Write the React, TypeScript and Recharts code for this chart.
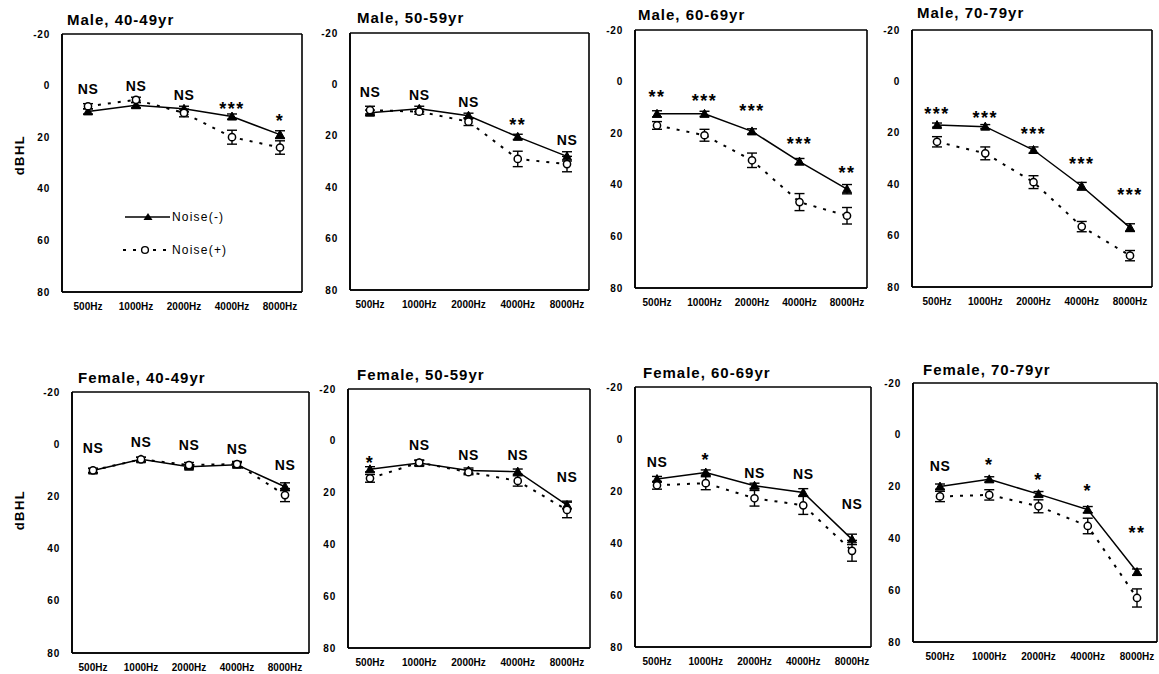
import React from 'react';
import { LineChart, Line, XAxis, YAxis, ErrorBar, Legend, CartesianGrid } from 'recharts';

// ---------- data ----------
const freqs = ['500Hz', '1000Hz', '2000Hz', '4000Hz', '8000Hz'];
const yTicks = [-20, 0, 20, 40, 60, 80];
const panelTitles = [
  'Male, 40-49yr',
  'Male, 50-59yr',
  'Male, 60-69yr',
  'Male, 70-79yr',
  'Female, 40-49yr',
  'Female, 50-59yr',
  'Female, 60-69yr',
  'Female, 70-79yr',
];
const seriesNames = ['Noise(-)', 'Noise(+)'];

// Noise(-): mean hearing level (dBHL) and error
const noiseNegMean = [
  [10, 7.6, 9, 12, 19],
  [11, 9.5, 12.2, 20.4, 28],
  [12.5, 12.5, 19.3, 31, 41.7],
  [17, 17.6, 26.7, 40.8, 56.9],
  [10.1, 5.8, 8.6, 7.9, 16.3],
  [11, 8.6, 11.5, 11.9, 24.8],
  [15.4, 12.9, 18, 20.6, 38.6],
  [20, 17.2, 22.9, 28.9, 53],
];
const noiseNegErr = [
  [1, 1, 1, 1, 1.5],
  [1, 1, 1, 1, 1.8],
  [1.2, 1, 1, 1.2, 1.8],
  [0.8, 0.8, 1.2, 1.5, 1.5],
  [0.8, 0.8, 0.8, 0.8, 1.5],
  [1, 1, 1, 1, 1.5],
  [1, 1, 1, 1.5, 2],
  [1, 1, 1, 1.2, 1.2],
];
// Noise(+): mean hearing level (dBHL) and error
const noisePosMean = [
  [8, 5.5, 10.6, 20, 24],
  [10, 10.6, 14.5, 29, 31],
  [17, 20.8, 30.5, 46.7, 52],
  [23.5, 28, 39.2, 56.5, 67.8],
  [10, 5.8, 8, 7.6, 19.5],
  [14.5, 8.4, 12.1, 15.5, 26.7],
  [17.8, 17, 22.8, 25.5, 43],
  [23.8, 23.2, 27.6, 35.2, 63],
];
const noisePosErr = [
  [1, 1, 1.5, 2.7, 2.6],
  [1.5, 1, 1.5, 3, 3],
  [1.5, 2.3, 2.8, 3.3, 3.2],
  [2, 2.5, 2.5, 2, 2],
  [0.8, 0.8, 1, 1, 2.5],
  [1.5, 1, 1, 2, 3],
  [1.5, 2.5, 3, 3.5, 4],
  [2, 2, 2.5, 3, 3.5],
];
// significance marks and the dBHL level where each is printed
const sigLabels = [
  ['NS', 'NS', 'NS', '***', '*'],
  ['NS', 'NS', 'NS', '**', 'NS'],
  ['**', '***', '***', '***', '**'],
  ['***', '***', '***', '***', '***'],
  ['NS', 'NS', 'NS', 'NS', 'NS'],
  ['*', 'NS', 'NS', 'NS', 'NS'],
  ['NS', '*', 'NS', 'NS', 'NS'],
  ['NS', '*', '*', '*', '**'],
];
const sigLabelY = [
  [1.5, 0.3, 3.5, 7.4, 12],
  [3, 4, 7, 14, 21.6],
  [4.3, 5.7, 9.5, 22.6, 33.5],
  [11, 12.4, 18.6, 30.3, 42.5],
  [1.5, -1, 0.3, 1.8, 8],
  [7, 1.5, 5.4, 5.4, 13.8],
  [8.7, 6.2, 13, 13.3, 25],
  [12, 10, 15.6, 20, 36],
];

// ---------- layout (page pixels) ----------
const panelLayout = [
  { L: 62, T: 34, R: 302, B: 292, padL: 26, padR: 22, tx: 67, ty: 20 },
  { L: 350, T: 33, R: 589, B: 290, padL: 20, padR: 22, tx: 357, ty: 18 },
  { L: 635, T: 30, R: 867, B: 288, padL: 22, padR: 20, tx: 638, ty: 15 },
  { L: 912, T: 30, R: 1152, B: 287, padL: 25, padR: 22, tx: 917, ty: 13 },
  { L: 72, T: 392, R: 309, B: 653, padL: 21, padR: 24, tx: 78, ty: 378 },
  { L: 348, T: 389, R: 590, B: 648, padL: 22, padR: 23, tx: 357, ty: 375 },
  { L: 635, T: 387, R: 871, B: 647, padL: 22, padR: 19, tx: 643, ty: 373 },
  { L: 913, T: 383, R: 1157, B: 642, padL: 27, padR: 20, tx: 923, ty: 370 },
];
const FONT = '"Liberation Sans", Arial, Helvetica, sans-serif';

const TriangleDot = (props: any) => {
  const { cx, cy, index } = props;
  if (cx == null || cy == null) return <g key={index} />;
  return (
    <polygon
      key={index}
      points={`${cx},${cy - 4.5} ${cx - 4.5},${cy + 3.5} ${cx + 4.5},${cy + 3.5}`}
      fill="#000"
      stroke="#000"
      strokeWidth={1}
    />
  );
};

const CircleDot = (props: any) => {
  const { cx, cy, index } = props;
  if (cx == null || cy == null) return <g key={index} />;
  return <circle key={index} cx={cx} cy={cy} r={3.6} fill="#fff" stroke="#000" strokeWidth={1.5} />;
};

const SigText = (props: any) => {
  const { cx, cy, index, payload } = props;
  if (cx == null || cy == null) return <g key={index} />;
  const s: string = payload.sig;
  const star = s.includes('*');
  return (
    <text
      key={index}
      x={cx}
      y={star ? cy + 4.5 : cy}
      textAnchor="middle"
      dominantBaseline="central"
      fontSize={star ? 18 : 14}
      fontWeight={700}
      letterSpacing={star ? 1.5 : 0.6}
      fontFamily={FONT}
      fill="#000"
    >
      {s}
    </text>
  );
};

const LegendContent = (props: any) => {
  const items = (props.payload || [])
    .filter((p: any) => seriesNames.includes(p.value))
    .sort((a: any, b: any) => seriesNames.indexOf(a.value) - seriesNames.indexOf(b.value));
  return (
    <svg width={130} height={56} style={{ overflow: 'visible' }}>
      {items.map((it: any, k: number) => {
        const y = k === 0 ? 10 : 43;
        const dashed = it.value === seriesNames[1];
        return (
          <g key={it.value}>
            <line
              x1={dashed ? 3 : 5}
              x2={dashed ? 48 : 50}
              y1={y}
              y2={y}
              stroke="#000"
              strokeWidth={dashed ? 2 : 1.5}
              strokeDasharray={dashed ? '3 7' : undefined}
            />
            {dashed ? (
              <circle cx={25} cy={y} r={3.4} fill="#fff" stroke="#000" strokeWidth={1.4} />
            ) : (
              <polygon points={`28,${y - 4} 23.5,${y + 3} 32.5,${y + 3}`} fill="#000" />
            )}
            <text x={52} y={y} dominantBaseline="central" fontSize={12} letterSpacing={1.2} fontFamily={FONT} fill="#000">
              {it.value}
            </text>
          </g>
        );
      })}
    </svg>
  );
};

const edgeH = ({ offset }: any) => [offset.top, offset.top + offset.height];
const edgeV = ({ offset }: any) => [offset.left, offset.left + offset.width];

const Panel = ({ i }: { i: number }) => {
  const box = panelLayout[i];
  const W = box.R - box.L;
  const H = box.B - box.T;
  const left = box.L - 62;
  const top = box.T - 30;
  const data = freqs.map((f, k) => ({
    freq: f,
    neg: noiseNegMean[i][k],
    negErr: noiseNegErr[i][k],
    pos: noisePosMean[i][k],
    posErr: noisePosErr[i][k],
    sig: sigLabels[i][k],
    sigY: sigLabelY[i][k],
  }));
  const axisStyle = { stroke: '#000', strokeWidth: 1.6 };
  return (
    <>
      <div
        style={{
          position: 'absolute',
          left: box.tx,
          top: box.ty - 9,
          lineHeight: '18px',
          fontSize: 15,
          fontWeight: 700,
          letterSpacing: 1,
          whiteSpace: 'nowrap',
          fontFamily: FONT,
        }}
      >
        {panelTitles[i]}
      </div>
      <div style={{ position: 'absolute', left, top }}>
        <LineChart
          width={W + 66}
          height={H + 60}
          data={data}
          margin={{ top: 30, right: 4, bottom: 0, left: 32 }}
          style={{ fontFamily: FONT }}
        >
          <CartesianGrid
            stroke="#000"
            strokeWidth={1.6}
            strokeDasharray=""
            horizontalCoordinatesGenerator={edgeH}
            verticalCoordinatesGenerator={edgeV}
          />
          <XAxis
            dataKey="freq"
            interval={0}
            height={30}
            padding={{ left: box.padL, right: box.padR }}
            axisLine={axisStyle}
            tickLine={false}
            tickSize={6}
            tickMargin={5}
            tick={{ fontSize: 10, fontWeight: 700, fill: '#000', fontFamily: FONT }}
          />
          <YAxis
            type="number"
            domain={[-20, 80]}
            ticks={yTicks}
            reversed
            allowDataOverflow
            width={30}
            axisLine={axisStyle}
            tickLine={false}
            tickSize={6}
            tickMargin={6}
            interval={0}
            tick={{ fontSize: 10, fontWeight: 700, fill: '#000', fontFamily: FONT, letterSpacing: 0.8 }}
          />
          <Line
            name={seriesNames[0]}
            dataKey="neg"
            stroke="#000"
            strokeWidth={1.5}
            dot={TriangleDot}
            activeDot={false}
            isAnimationActive={false}
          >
            <ErrorBar dataKey="negErr" direction="y" width={5} stroke="#000" strokeWidth={1.4} />
          </Line>
          <Line
            name={seriesNames[1]}
            dataKey="pos"
            stroke="#000"
            strokeWidth={2}
            strokeDasharray="3 7"
            dot={CircleDot}
            activeDot={false}
            isAnimationActive={false}
          >
            <ErrorBar dataKey="posErr" direction="y" width={5} stroke="#000" strokeWidth={1.4} />
          </Line>
          <Line
            dataKey="sigY"
            stroke="none"
            legendType="none"
            dot={SigText}
            activeDot={false}
            isAnimationActive={false}
          />
          {i === 0 && (
            <Legend
              layout="vertical"
              align="center"
              verticalAlign="middle"
              wrapperStyle={{ left: 120, top: 203, width: 130 }}
              content={LegendContent}
            />
          )}
        </LineChart>
      </div>
    </>
  );
};

const YLabel = ({ cy }: { cy: number }) => (
  <div
    style={{
      position: 'absolute',
      left: 20 - 30,
      top: cy - 8,
      width: 60,
      height: 16,
      lineHeight: '16px',
      textAlign: 'center',
      transform: 'rotate(-90deg)',
      fontSize: 13,
      fontWeight: 700,
      letterSpacing: 1.5,
      fontFamily: FONT,
    }}
  >
    dBHL
  </div>
);

export default function App() {
  return (
    <div
      style={{
        position: 'absolute',
        left: 0,
        top: 0,
        width: 1159,
        height: 674,
        overflow: 'hidden',
        background: '#fff',
        fontFamily: FONT,
        color: '#000',
      }}
    >
      <YLabel cy={155} />
      <YLabel cy={510} />
      {panelTitles.map((_, i) => (
        <Panel key={i} i={i} />
      ))}
    </div>
  );
}
